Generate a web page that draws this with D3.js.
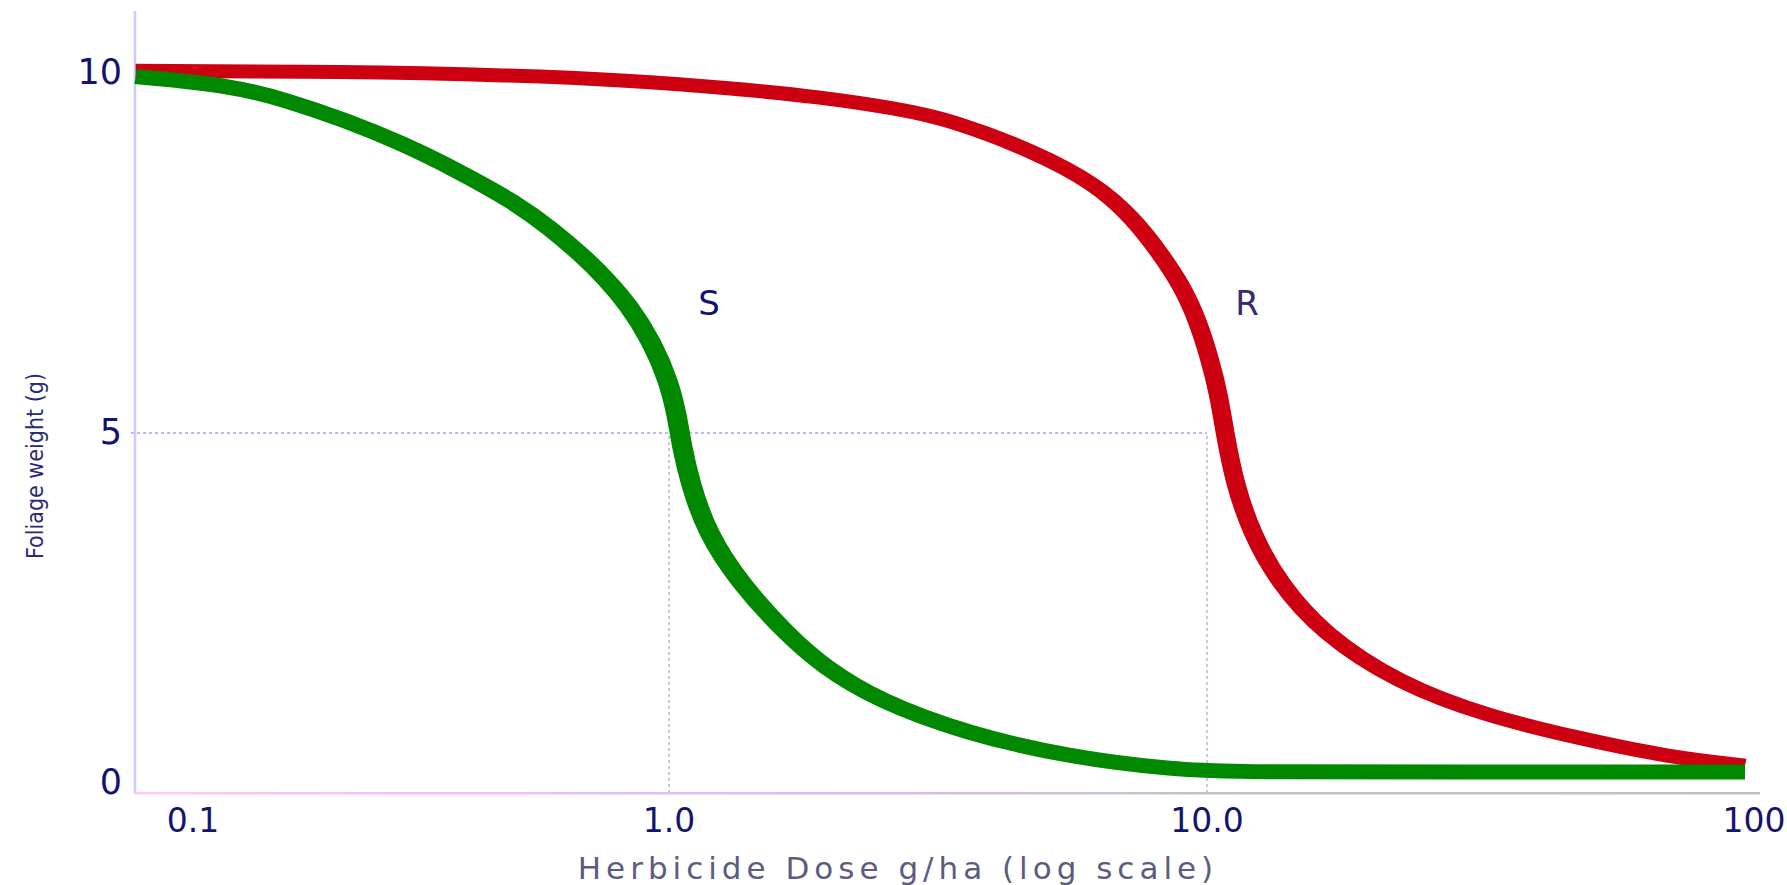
<!DOCTYPE html>
<html>
<head>
<meta charset="utf-8">
<script src="https://cdn.jsdelivr.net/npm/d3@7"></script>
<style>
  body { margin: 0; background: #fff; }
  text { font-family: "DejaVu Sans", sans-serif; }
</style>
</head>
<body>
<script>
// values
const sDose   = [0.102, 0.153, 0.195, 0.249, 0.318, 0.406, 0.518, 0.60, 0.694, 0.764, 0.843, 0.929, 1.0, 1.035, 1.055, 1.094, 1.177, 1.353, 1.647, 1.94, 2.44, 3.56, 5.54, 8.76, 11.6, 30, 100];
const sWeight = [9.95, 9.83, 9.62, 9.35, 9.03, 8.64, 8.20, 7.85, 7.45, 7.14, 6.77, 6.27, 5.71, 5.24, 4.84, 4.31, 3.61, 2.92, 2.22, 1.75, 1.29, 0.83, 0.50, 0.32, 0.29, 0.29, 0.29];

const rDose   = [0.102, 0.25, 0.51, 0.84, 1.30, 1.9, 2.69, 3.33, 4.75, 6.24, 7.29, 8.18, 9.02, 9.62, 10.1, 10.5, 10.8, 11.25, 12.1, 13.6, 16.4, 22.6, 33.3, 50.6, 72.2, 100];
const rWeight = [10.03, 10.02, 9.97, 9.9, 9.79, 9.67, 9.50, 9.35, 8.92, 8.45, 7.98, 7.50, 7.02, 6.55, 6.05, 5.56, 5.0, 4.31, 3.61, 2.92, 2.22, 1.53, 1.06, 0.74, 0.50, 0.38];

const xTicks = [0.1, 1, 10, 100];
const xTickLabels = ["0.1", "1.0", "10.0", "100"];
const yTicks = [0, 5, 10];
const yTickLabels = ["0", "5", "10"];

const width = 1787, height = 885;
// the picture was stretched sideways, so the pen is wider than it is tall
const stretch = 1.35;

const svg = d3.select("body").append("svg")
    .attr("width", width)
    .attr("height", height);

const defs = svg.append("defs");
const grad = defs.append("linearGradient")
    .attr("id", "xaxisgrad")
    .attr("x1", "0%").attr("x2", "100%");
grad.append("stop").attr("offset", "0%").attr("stop-color", "#ffc8f8");
grad.append("stop").attr("offset", "40%").attr("stop-color", "#e0b8f8");
grad.append("stop").attr("offset", "70%").attr("stop-color", "#c4c4c4");
grad.append("stop").attr("offset", "100%").attr("stop-color", "#c0c0c0");

const x = d3.scaleLog().domain([0.1, 100]).range([131, 1745]);
const y = d3.scaleLinear().domain([0, 10]).range([793, 73]);

// dotted guide lines at half weight
svg.append("line")
    .attr("x1", x(0.1)).attr("x2", x(10))
    .attr("y1", y(5)).attr("y2", y(5))
    .style("stroke", "#a8a0f0").style("stroke-width", 1.5)
    .style("stroke-dasharray", "3,3");
[1, 10].forEach(function(d) {
    svg.append("line")
        .attr("x1", x(d)).attr("x2", x(d))
        .attr("y1", y(0)).attr("y2", y(5))
        .style("stroke", "#ccc0fa").style("stroke-width", 2)
        .style("stroke-dasharray", "3,3");
});

// axis lines
svg.append("line")
    .attr("x1", 135).attr("x2", 135)
    .attr("y1", 11).attr("y2", 794)
    .style("stroke", "#ccccff").style("stroke-width", 2.5);
svg.append("rect")
    .attr("x", 134).attr("y", 792)
    .attr("width", 1626).attr("height", 2.5)
    .style("fill", "url(#xaxisgrad)");

// tick labels
svg.selectAll("text.xtick")
    .data(xTicks)
  .enter().append("text")
    .attr("class", "xtick")
    .attr("x", function(d, i) { return x(d) + (i === 0 ? 62 : (i === 3 ? 9 : 0)); })
    .attr("y", 832)
    .attr("text-anchor", "middle")
    .style("font-size", "33px")
    .style("fill", "#141470")
    .text(function(d, i) { return xTickLabels[i]; });

svg.selectAll("text.ytick")
    .data(yTicks)
  .enter().append("text")
    .attr("class", "ytick")
    .attr("x", 122)
    .attr("y", function(d) { return y(d) + (d === 0 ? 1 : 11); })
    .attr("text-anchor", "end")
    .style("font-size", "35px")
    .style("fill", "#141470")
    .text(function(d, i) { return yTickLabels[i]; });

// axis titles
svg.append("text")
    .attr("x", 898).attr("y", 879)
    .attr("text-anchor", "middle")
    .style("font-size", "31px")
    .style("letter-spacing", "5px")
    .style("fill", "#5c5c80")
    .text("Herbicide Dose g/ha (log scale)");

svg.append("text")
    .attr("transform", "translate(43,466) rotate(-90)")
    .attr("text-anchor", "middle")
    .style("font-family", "'DejaVu Sans Condensed', 'DejaVu Sans', sans-serif")
    .style("font-size", "23px")
    .style("fill", "#2a2a78")
    .text("Foliage weight (g)");

// curves, drawn in a group stretched sideways
const xs = d3.scaleLog().domain(x.domain()).range(x.range().map(function(v) { return v / stretch; }));
const line = d3.line()
    .x(function(d) { return xs(d[0]); })
    .y(function(d) { return y(d[1]); })
    .curve(d3.curveBasis);

const curves = svg.append("g").attr("transform", "scale(" + stretch + ",1)");

curves.append("path")
    .datum(d3.zip(rDose, rWeight))
    .attr("d", line)
    .style("fill", "none")
    .style("stroke", "#cc0010")
    .style("stroke-width", 14);

curves.append("path")
    .datum(d3.zip(sDose, sWeight))
    .attr("d", line)
    .style("fill", "none")
    .style("stroke", "#008800")
    .style("stroke-width", 15);

// curve labels
svg.append("text")
    .attr("x", 709).attr("y", 315)
    .attr("text-anchor", "middle")
    .style("font-size", "34px")
    .style("fill", "#101070")
    .text("S");
svg.append("text")
    .attr("x", 1247).attr("y", 315)
    .attr("text-anchor", "middle")
    .style("font-size", "34px")
    .style("fill", "#3a2a6a")
    .text("R");
</script>
</body>
</html>
